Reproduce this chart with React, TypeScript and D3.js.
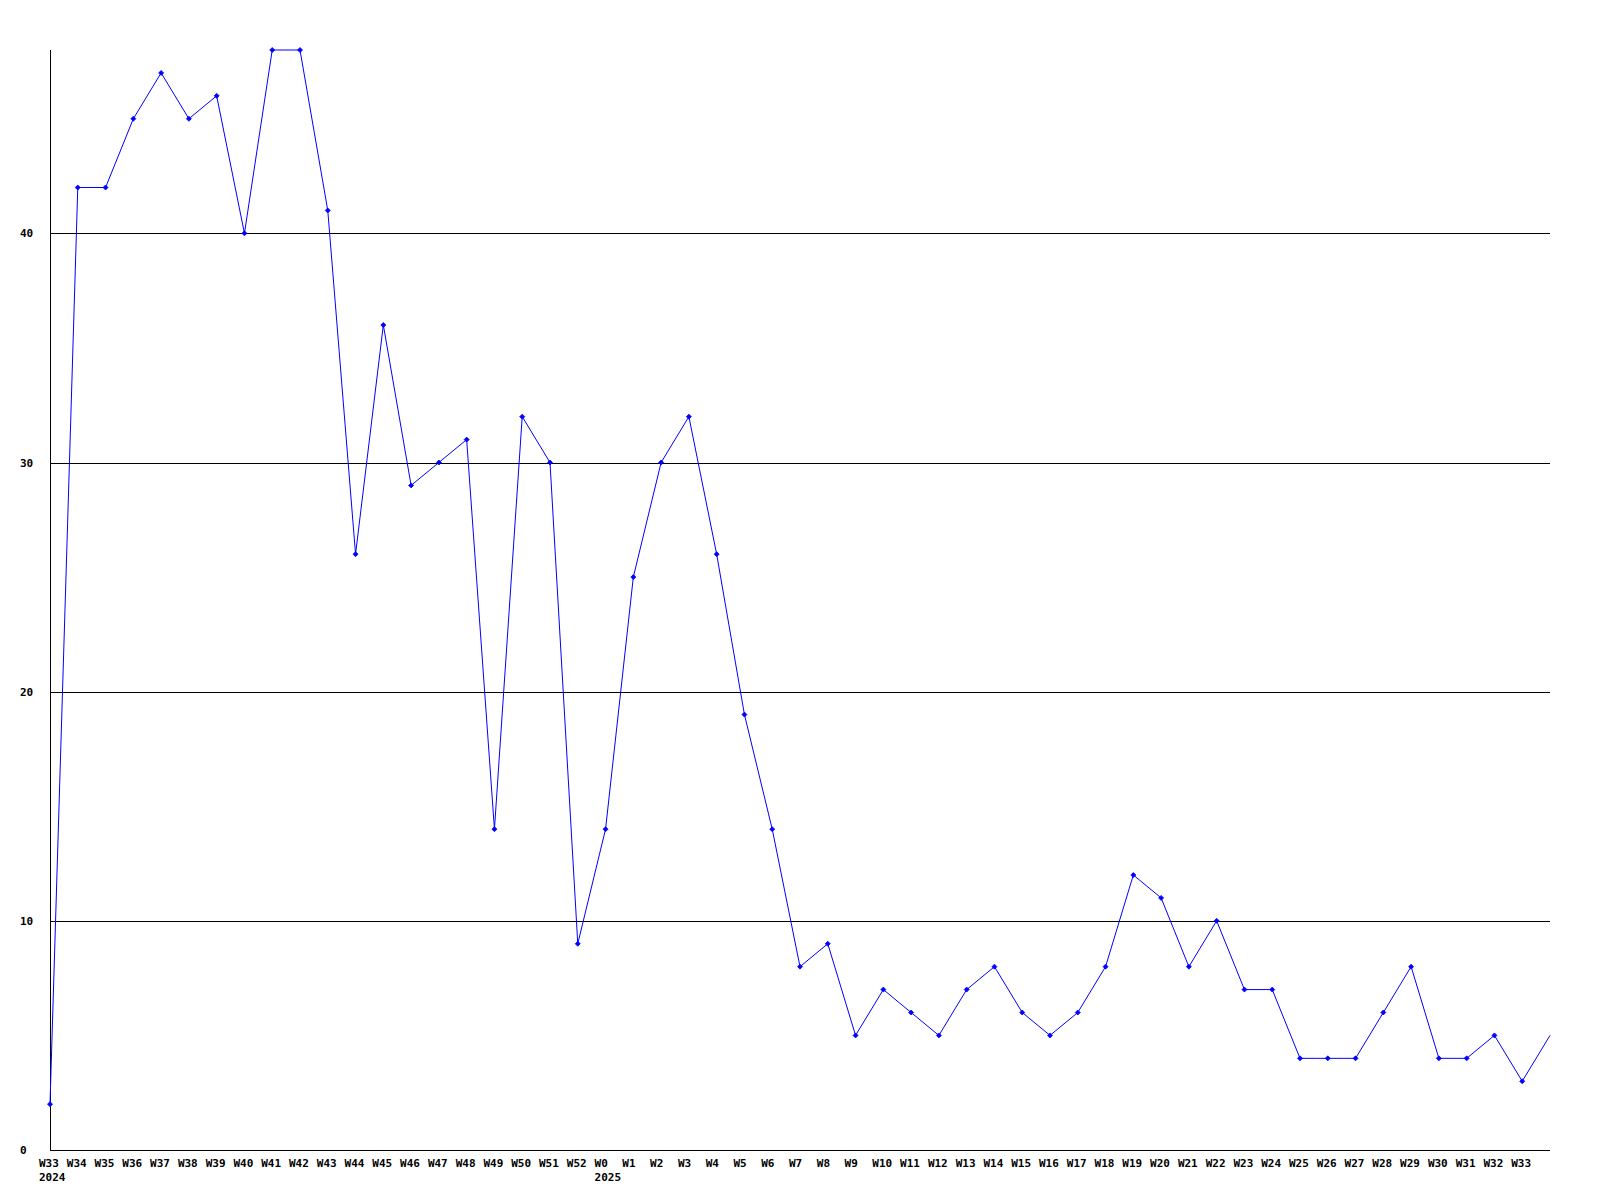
import React from "react";
import * as d3 from "d3";

const weekLabels: string[] = [
  "W33", "W34", "W35", "W36", "W37", "W38", "W39", "W40", "W41", "W42",
  "W43", "W44", "W45", "W46", "W47", "W48", "W49", "W50", "W51", "W52",
  "W0", "W1", "W2", "W3", "W4", "W5", "W6", "W7", "W8", "W9",
  "W10", "W11", "W12", "W13", "W14", "W15", "W16", "W17", "W18", "W19",
  "W20", "W21", "W22", "W23", "W24", "W25", "W26", "W27", "W28", "W29",
  "W30", "W31", "W32", "W33", "",
];

const yearLabels: { index: number; label: string }[] = [
  { index: 0, label: "2024" },
  { index: 20, label: "2025" },
];

const values: number[] = [
  2, 42, 42, 45, 47, 45, 46, 40, 48, 48,
  41, 26, 36, 29, 30, 31, 14, 32, 30, 9,
  14, 25, 30, 32, 26, 19, 14, 8, 9, 5,
  7, 6, 5, 7, 8, 6, 5, 6, 8, 12,
  11, 8, 10, 7, 7, 4, 4, 4, 6, 8,
  4, 4, 5, 3, 5,
];

const yTicks: number[] = [0, 10, 20, 30, 40];

const W = 1600;
const H = 1200;
const left = 50;
const right = 1550;
const top = 50;
const bottom = 1150;
const FONT = "'DejaVu Sans Mono', monospace";

export default function App() {
  const x = d3.scaleLinear().domain([0, values.length - 1]).range([left, right]);
  const y = d3.scaleLinear().domain([0, 48]).range([bottom, top]);
  const line = d3
    .line<number>()
    .x((_, i) => x(i))
    .y((d) => y(d));

  return (
    <svg
      width={W}
      height={H}
      style={{ position: "absolute", left: 0, top: 0, background: "#fff" }}
    >
      <rect x={0} y={0} width={W} height={H} fill="#fff" />
      {yTicks
        .filter((t) => t > 0)
        .map((t) => (
          <line
            key={t}
            x1={left}
            x2={right}
            y1={Math.round(y(t)) + 0.5}
            y2={Math.round(y(t)) + 0.5}
            stroke="#000"
            strokeWidth={1}
          />
        ))}
      <line x1={left + 0.5} x2={left + 0.5} y1={top} y2={bottom} stroke="#000" strokeWidth={1} />
      <line x1={left} x2={right} y1={bottom + 0.5} y2={bottom + 0.5} stroke="#000" strokeWidth={1} />
      {yTicks.map((t) => (
        <text
          key={t}
          x={20}
          y={y(t) + 4}
          fontFamily={FONT}
          fontWeight="bold"
          fontSize={11}
          fill="#000"
        >
          {t}
        </text>
      ))}
      {weekLabels.map((l, i) =>
        l ? (
          <text
            key={i}
            x={x(i) - 11}
            y={1167}
            fontFamily={FONT}
            fontWeight="bold"
            fontSize={11}
            fill="#000"
          >
            {l}
          </text>
        ) : null
      )}
      {yearLabels.map((yl) => (
        <text
          key={yl.label}
          x={x(yl.index) - 11}
          y={1181}
          fontFamily={FONT}
          fontWeight="bold"
          fontSize={11}
          fill="#000"
        >
          {yl.label}
        </text>
      ))}
      <path d={line(values) || ""} fill="none" stroke="#0000ff" strokeWidth={1} />
      {values.slice(0, values.length - 1).map((v, i) => {
        const cx = x(i);
        const cy = y(v);
        return (
          <path
            key={i}
            d={`M${cx - 2.5},${cy}L${cx},${cy - 2.5}L${cx + 2.5},${cy}L${cx},${cy + 2.5}Z`}
            fill="#0000ff"
            stroke="#0000ff"
            strokeWidth={0.8}
          />
        );
      })}
    </svg>
  );
}
